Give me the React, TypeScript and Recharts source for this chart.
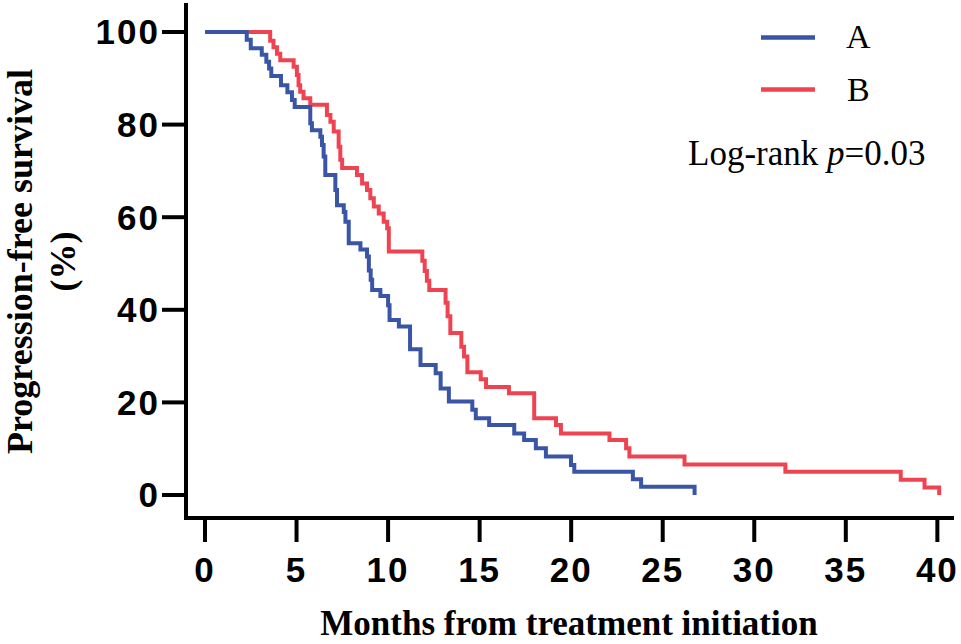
import { LineChart, Line, XAxis, YAxis, Label } from "recharts";

// axis ticks
const monthTicks = [0, 5, 10, 15, 20, 25, 30, 35, 40];
const pctTicks = [0, 20, 40, 60, 80, 100];

// group A (blue) – step points: month, % progression-free
const groupATimes = [
  0, 2.28, 2.5, 3.1, 3.35, 3.5, 3.62, 4.15, 4.5, 4.75, 4.9, 5.75, 5.84, 6.3, 6.39, 6.48, 6.57,
  7.12, 7.21, 7.58, 7.67, 7.85, 8.49, 8.85, 8.95, 9.05, 9.13, 9.58, 10.0, 10.08, 10.59, 11.2,
  11.77, 12.6, 12.87, 13.32, 14.6, 14.79, 15.52, 16.89, 17.43, 18.07, 18.62, 19.99, 20.17,
  23.37, 23.82, 26.74,
];
const groupASurv = [
  100, 98.3, 96.5, 95.1, 93.6, 92.1, 90.5, 88.5, 87.0, 85.3, 83.8, 80.3, 78.8, 77.4, 75.6, 73.1,
  69.1, 65.9, 62.6, 61.1, 59.0, 54.4, 53.0, 51.5, 48.5, 46.5, 44.3, 43.0, 41.0, 37.8, 36.4, 31.5,
  28.1, 26.3, 23.0, 20.2, 18.4, 16.6, 15.1, 13.3, 11.9, 10.1, 8.3, 6.5, 5.0, 3.4, 1.8, 0,
];

// group B (red)
const groupBTimes = [
  0, 3.56, 3.74, 3.93, 4.11, 4.84, 5.02, 5.11, 5.2, 5.38, 5.75, 6.66, 6.85, 7.03, 7.3, 7.39,
  7.49, 8.3, 8.58, 8.85, 9.03, 9.22, 9.49, 9.76, 9.95, 10.04, 11.87, 12.0, 12.12, 12.25, 13.14,
  13.25, 13.4, 14.0, 14.15, 14.33, 15.06, 15.35, 16.6, 17.98, 19.17, 19.44, 22.09, 23.0, 23.18,
  26.19, 31.7, 38.0, 39.3, 40.1,
];
const groupBSurv = [
  100, 98.1, 96.7, 95.3, 93.9, 92.5, 90.7, 88.5, 87.1, 85.7, 84.3, 82.1, 80.6, 78.5, 75.2, 72.4,
  70.6, 69.1, 67.3, 65.9, 64.1, 62.3, 60.8, 59.0, 57.6, 52.6, 50.6, 48.4, 46.3, 44.3, 41.5,
  38.6, 35.0, 32.0, 29.9, 26.5, 25.0, 23.3, 22.0, 16.6, 15.1, 13.3, 11.9, 10.1, 8.3,
  6.6, 5.0, 3.3, 1.6, 0,
];

const toSteps = (times: number[], surv: number[]) => times.map((t, i) => ({ t, s: surv[i] }));
const dataA = toSteps(groupATimes, groupASurv);
const dataB = toSteps(groupBTimes, groupBSurv);

const BLUE = "#3a55a5";
const RED = "#ee4452";
const SANS = "Arial, 'Liberation Sans', sans-serif";
const SERIF = "'Times New Roman', 'Liberation Serif', serif";

const tickStyle = { fill: "#000", fontSize: 35, fontWeight: 700, fontFamily: SANS, letterSpacing: 2 };
const axisStroke = { stroke: "#000", strokeWidth: 4, strokeLinecap: "square" as const };

function YTitle({ viewBox }: any) {
  const cy = viewBox.y + viewBox.height / 2;
  return (
    <g fontFamily={SERIF} fontWeight={700} fontSize={36} fill="#000">
      <text x={32} y={cy} transform={`rotate(-90 32 ${cy})`} textAnchor="middle">
        Progression-free survival
      </text>
      <text x={75} y={cy} transform={`rotate(-90 75 ${cy})`} textAnchor="middle">
        (%)
      </text>
    </g>
  );
}

function XTitle({ viewBox }: any) {
  return (
    <text
      x={viewBox.x + viewBox.width / 2}
      y={viewBox.y + 117}
      textAnchor="middle"
      fontFamily={SERIF}
      fontWeight={700}
      fontSize={35}
      fill="#000"
    >
      Months from treatment initiation
    </text>
  );
}

function LegendBox() {
  return (
    <svg width={961} height={200} style={{ position: "absolute", left: 0, top: 0, pointerEvents: "none" }}>
      <g fontFamily={SERIF} fill="#000">
        <line x1={761} x2={815} y1={37.5} y2={37.5} stroke={BLUE} strokeWidth={4.5} />
        <text x={846} y={48} fontSize={34}>A</text>
        <line x1={761} x2={815} y1={89.5} y2={89.5} stroke={RED} strokeWidth={4.5} />
        <text x={847} y={101} fontSize={34}>B</text>
        <text x={688} y={165} fontSize={35}>
          Log-rank <tspan fontStyle="italic">p</tspan>=0.03
        </text>
      </g>
    </svg>
  );
}

export default function App() {
  return (
    <div style={{ position: "absolute", left: 0, top: 0, width: 961, height: 644, background: "#fff" }}>
      <LineChart width={961} height={644} margin={{ top: 5, right: 9, bottom: 0, left: 0 }}>
        <XAxis
          type="number"
          dataKey="t"
          domain={[0, 40.8]}
          ticks={monthTicks}
          padding={{ left: 19, right: 0 }}
          height={126}
          tickSize={22}
          tickMargin={17}
          tick={tickStyle}
          axisLine={axisStroke}
          tickLine={axisStroke}
          allowDataOverflow
        >
          <Label content={<XTitle />} />
        </XAxis>
        <YAxis
          type="number"
          domain={[0, 100]}
          ticks={pctTicks}
          padding={{ top: 27, bottom: 23 }}
          width={186}
          tickSize={22}
          tickMargin={4}
          tick={tickStyle}
          axisLine={axisStroke}
          tickLine={axisStroke}
        >
          <Label content={<YTitle />} />
        </YAxis>
        <Line
          data={dataB}
          dataKey="s"
          type="stepAfter"
          stroke={RED}
          strokeWidth={4}
          dot={false}
          activeDot={false}
          isAnimationActive={false}
        />
        <Line
          data={dataA}
          dataKey="s"
          type="stepAfter"
          stroke={BLUE}
          strokeWidth={4}
          dot={false}
          activeDot={false}
          isAnimationActive={false}
        />
      </LineChart>
      <LegendBox />
    </div>
  );
}
